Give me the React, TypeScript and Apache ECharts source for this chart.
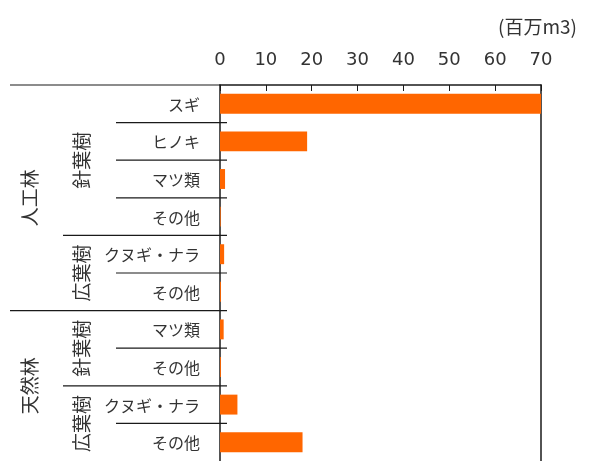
import React, { useEffect, useRef } from "react";
import * as echarts from "echarts";

const categories = ["スギ", "ヒノキ", "マツ類", "その他", "クヌギ・ナラ", "その他", "マツ類", "その他", "クヌギ・ナラ", "その他"];
const values = [70, 19, 1.1, 0.15, 0.9, 0.2, 0.8, 0.2, 3.8, 18.0];
const xTicks = { min: 0, max: 70, interval: 10 };
const unitLabel = "(百万m3)";
const forestGroups = [
  { name: "人工林", start: 0, end: 6 },
  { name: "天然林", start: 6, end: 10 },
];
const leafGroups = [
  { name: "針葉樹", start: 0, end: 4 },
  { name: "広葉樹", start: 4, end: 6 },
  { name: "針葉樹", start: 6, end: 8 },
  { name: "広葉樹", start: 8, end: 10 },
];

const FONT = "'Noto Sans CJK JP', 'Noto Sans', sans-serif";
const NUM_FONT = "'DejaVu Sans', 'Noto Sans CJK JP', sans-serif";
const TEXT = "#333";
const LINE = "#1a1a1a";

export default function App() {
  const ref = useRef<HTMLDivElement>(null);
  useEffect(() => {
    if (!ref.current) return;
    const chart = echarts.init(ref.current, null, { renderer: "svg" });
    const option: any = {
      animation: false,
      grid: { left: 220, top: 85, width: 321, height: 380, containLabel: false },
      xAxis: {
        type: "value",
        position: "top",
        min: xTicks.min,
        max: xTicks.max,
        interval: xTicks.interval,
        axisLine: { show: true, lineStyle: { color: LINE, width: 1.5 } },
        axisTick: { show: true, inside: true, length: 6, lineStyle: { color: LINE, width: 1 } },
        axisLabel: { fontSize: 18, color: TEXT, fontFamily: NUM_FONT, margin: 18 },
        splitLine: { show: false },
      },
      yAxis: [
        {
          type: "category",
          inverse: true,
          data: categories.map((_, i) => String(i)),
          axisLine: { show: true, onZero: false, lineStyle: { color: LINE, width: 1.5 } },
          axisTick: { show: false },
          axisLabel: {
            fontSize: 16,
            color: TEXT,
            fontFamily: FONT,
            margin: 20,
            formatter: (v: string) => categories[Number(v)],
          },
        },
        {
          type: "category",
          inverse: true,
          position: "right",
          data: categories.map((_, i) => String(i)),
          axisLine: { show: true, onZero: false, lineStyle: { color: LINE, width: 1.5 } },
          axisTick: { show: false },
          axisLabel: { show: false },
        },
      ],
      series: [
        {
          type: "bar",
          data: values,
          barWidth: "53%",
          itemStyle: { color: "#FF6600" },
          clip: true,
        },
      ],
    };
    chart.setOption(option);

    const cy = (i: number) => chart.convertToPixel({ yAxisIndex: 0 }, String(i)) as number;
    const band = cy(1) - cy(0);
    const boundary = (k: number) => cy(0) - band / 2 + k * band;
    const x0 = chart.convertToPixel({ xAxisIndex: 0 }, 0) as number;
    const xEnd = chart.convertToPixel({ xAxisIndex: 0 }, xTicks.max) as number;

    const graphics: any[] = [];
    const lineStyle = { stroke: LINE, lineWidth: 1.2 };
    const majorStarts = new Set<number>();
    forestGroups.forEach((g) => { majorStarts.add(g.start); majorStarts.add(g.end); });
    const midStarts = new Set<number>();
    leafGroups.forEach((g) => { midStarts.add(g.start); midStarts.add(g.end); });

    for (let k = 0; k < categories.length; k++) {
      const y = boundary(k);
      let left = x0 - 104;
      if (majorStarts.has(k)) left = x0 - 210;
      else if (midStarts.has(k)) left = x0 - 157;
      const right = k === 0 ? x0 : x0 + 7;
      graphics.push({ type: "line", shape: { x1: left, y1: y, x2: right, y2: y }, style: lineStyle, silent: true });
    }

    leafGroups.forEach((g) => {
      const yc = (boundary(g.start) + boundary(g.end)) / 2;
      graphics.push({
        type: "text",
        x: x0 - 140,
        y: yc,
        rotation: Math.PI / 2,
        style: { text: g.name, fontSize: 19, fontFamily: FONT, fill: TEXT, align: "center", verticalAlign: "middle" },
        silent: true,
      });
    });
    forestGroups.forEach((g) => {
      const yc = (boundary(g.start) + boundary(g.end)) / 2;
      graphics.push({
        type: "text",
        x: x0 - 192,
        y: yc,
        rotation: Math.PI / 2,
        style: { text: g.name, fontSize: 19, fontFamily: FONT, fill: TEXT, align: "center", verticalAlign: "middle" },
        silent: true,
      });
    });
    graphics.push({
      type: "text",
      x: xEnd + 36,
      y: 25,
      style: { text: unitLabel, fontSize: 19, fontFamily: FONT, fill: TEXT, align: "right", verticalAlign: "middle" },
      silent: true,
    });
    chart.setOption({ graphic: graphics });

    return () => chart.dispose();
  }, []);
  return <div ref={ref} style={{ position: "fixed", left: 0, top: 0, width: 590, height: 461 }} />;
}
